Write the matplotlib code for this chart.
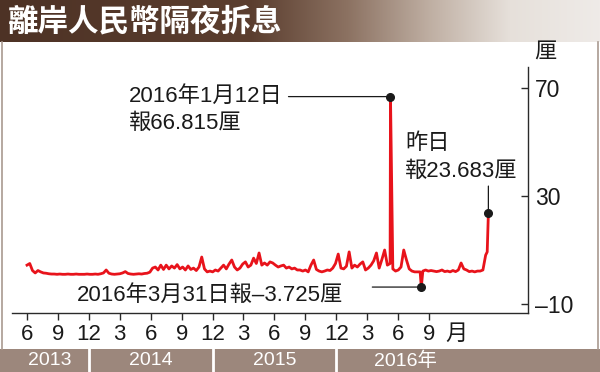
import matplotlib
matplotlib.use("Agg")
import matplotlib.pyplot as plt
import numpy as np
from matplotlib import transforms
from matplotlib.patches import Rectangle
from matplotlib.colors import to_rgb

FONT = ["Liberation Sans", "Noto Sans CJK TC", "DejaVu Sans"]
plt.rcParams["font.family"] = FONT

# CNH overnight HIBOR (%), one reading per week from 2013-06-24
start_date = np.datetime64("2013-06-24")
weekly_rate = [
    4.4, 5.0, 2.4, 1.5, 2.4, 1.9, 1.5, 1.4, 1.2, 1.1,
    1.1, 1.0, 1.1, 1.0, 1.0, 1.1, 1.0, 1.0, 1.1, 1.0,
    1.0, 1.0, 1.1, 1.0, 1.0, 1.1, 1.0, 1.2, 1.5, 2.6,
    1.4, 1.1, 1.0, 1.1, 1.2, 1.5, 2.0, 1.3, 1.1, 1.0,
    1.1, 1.2, 1.1, 1.3, 1.4, 1.8, 3.3, 3.7, 2.6, 4.4,
    2.8, 4.4, 3.0, 4.1, 3.3, 4.6, 3.0, 3.7, 2.6, 4.1,
    2.8, 3.3, 2.4, 3.7, 7.4, 3.0, 1.9, 2.2, 1.9, 2.6,
    2.2, 3.3, 4.4, 3.0, 4.8, 6.3, 3.7, 2.6, 3.3, 4.8,
    5.6, 3.7, 4.4, 7.0, 5.0, 8.9, 4.4, 5.2, 4.4, 5.6,
    5.2, 4.4, 3.7, 4.1, 4.4, 3.3, 3.7, 3.0, 3.3, 2.6,
    2.6, 2.2, 2.6, 1.9, 4.4, 6.3, 2.8, 2.2, 1.9, 2.2,
    2.6, 2.4, 3.3, 5.0, 8.5, 3.3, 3.0, 4.0, 9.3, 3.3,
    4.4, 3.7, 4.8, 5.6, 2.6, 3.3, 4.4, 6.0, 8.9, 3.3,
    6.5, 10.0, 4.4, 5.0, 3.0, 2.2, 2.6, 3.7, 10.0, 6.3,
    3.0, 2.2, 1.9, 1.9, 1.9, 2.2, 2.6, 2.2, 2.4, 2.2,
    2.0, 2.2, 2.6, 2.0, 2.2, 1.9, 2.4, 2.0, 2.6, 5.2,
    3.0, 2.6, 2.0, 2.2, 1.9, 2.2, 2.2, 2.6, 8.1,
]
# single days the weekly grid misses
event_dates = ["2016-01-12", "2016-03-31", "2016-09-16", "2016-09-19"]
event_rates = [66.815, -3.725, 9.3, 23.683]
marked = [0, 1, 3]  # events that get a black dot

month_labels = ["6", "9", "12", "3", "6", "9", "12", "3", "6", "9", "12", "3", "6", "9"]
year_labels = ["2013", "2014", "2015", "2016年"]
tick_step = 79.3  # the printed month ticks are not spaced to the data's calendar

days = np.arange(len(weekly_rate)) * 7
ev_days = np.array([(np.datetime64(d) - start_date).astype(int) for d in event_dates])
x = np.concatenate([days, ev_days])
y = np.concatenate([weekly_rate, event_rates])
order = np.argsort(x, kind="stable")
x, y = x[order], y[order]

fig = plt.figure(figsize=(6, 3.72), dpi=100)
W, H = 600, 372
INK = "#1a1a1a"

# title band with gradient
tax = fig.add_axes([0, 1 - 42 / H, 1, 42 / H])
stops = [0, 0.42, 0.58, 0.72, 0.85, 1.0]
cols = ["#4d3225", "#5b3e2f", "#8c7262", "#c0b0a4", "#e6e0da", "#efebe8"]
gx = np.linspace(0, 1, 600)
rgb = np.array([to_rgb(c) for c in cols])
grad = np.stack([np.interp(gx, stops, rgb[:, i]) for i in range(3)], axis=-1)
tax.imshow(grad[None, :, :], aspect="auto", extent=[0, 1, 0, 1])
tax.set_axis_off()
fig.text(8 / W, 1 - 21 / H, "離岸人民幣隔夜拆息", color="white", fontsize=22,
         fontweight="bold", va="center", ha="left", family=["Noto Sans CJK TC"])

# frame sides and bottom band (behind the axes so the year labels stay on top)
fig.add_artist(plt.Line2D([1.5 / W, 1.5 / W], [23 / H, 1 - 42 / H], color="#a99a90", lw=1.2))
fig.add_artist(plt.Line2D([597.5 / W, 597.5 / W], [23 / H, 1 - 42 / H], color="#a99a90", lw=1.2))
fig.add_artist(Rectangle((0, 0), 1, 23 / H, transform=fig.transFigure, color="#9c877c",
                         lw=0, zorder=-1))

ax = fig.add_axes([12 / W, 1 - 313 / H, 516 / W, 246 / H])
ax.patch.set_alpha(0)
ax.plot(x, y, color="#e8131b", lw=2.0, zorder=3)
ax.plot(ev_days[marked], np.array(event_rates)[marked], "o", color=INK, ms=5.5, zorder=5)
ax.set_xlim(-38.5, 1284.6)
ax.set_ylim(-13.33, 77.78)

for s in ["top", "left"]:
    ax.spines[s].set_visible(False)
for s in ["bottom", "right"]:
    ax.spines[s].set_color("#2a2a2a")
    ax.spines[s].set_linewidth(1)

tick_x = np.arange(len(month_labels)) * tick_step
ax.set_xticks(tick_x)
ax.set_xticklabels(month_labels)
ax.tick_params(axis="x", direction="out", length=5, width=1, pad=3, labelsize=16,
               color="#2a2a2a", labelcolor=INK)
ax.yaxis.tick_right()
ax.set_yticks([-10, 30, 70])
ax.set_yticklabels(["–10", "30", "70"])
ax.tick_params(axis="y", direction="in", length=5, width=1, pad=5, labelsize=16.5,
               color="#2a2a2a", labelcolor=INK)

ax.annotate("月", xy=(13.87 * tick_step, 0), xycoords=("data", "axes fraction"),
            xytext=(0, -8), textcoords="offset points", ha="center", va="top",
            fontsize=16, color=INK)
fig.text(534 / W, 1 - 53 / H, "厘", fontsize=16, va="center", ha="left", color=INK)

# year band labels and dividers
bt = transforms.blended_transform_factory(ax.transData, fig.transFigure)
bounds = [-0.5 * tick_step] + [tick_x[i] for i, m in enumerate(month_labels) if m == "12"] + [14.5 * tick_step]
for b in bounds[1:-1]:
    ax.add_artist(plt.Line2D([b, b], [0, 23 / H], transform=bt, color="white", lw=2, clip_on=False))
for i, lab in enumerate(year_labels):
    ax.text((bounds[i] + bounds[i + 1]) / 2, 11.5 / H, lab, transform=bt, ha="center",
            va="center", color="white", fontsize=14, clip_on=False)

# annotations (offsets in points, 1 px = 0.72 pt)
px = 0.72
line_kw = dict(arrowstyle="-", lw=0.9, color=INK, shrinkA=0, shrinkB=0)
d0, v0 = ev_days[0], event_rates[0]
ax.annotate("", xy=(d0, v0), xytext=(-102 * px, 0), textcoords="offset points", arrowprops=line_kw)
ax.annotate("2016年1月12日", xy=(d0, v0), xytext=(-262 * px, 0), textcoords="offset points",
            ha="left", va="center", fontsize=16, color=INK)
ax.annotate("報66.815厘", xy=(d0, v0), xytext=(-262 * px, -27 * px), textcoords="offset points",
            ha="left", va="center", fontsize=16, color=INK)

d1, v1 = ev_days[1], event_rates[1]
ax.annotate("", xy=(d1, v1), xytext=(-49 * px, 0), textcoords="offset points", arrowprops=line_kw)
ax.annotate("2016年3月31日報–3.725厘", xy=(d1, v1), xytext=(-78 * px, -8 * px),
            textcoords="offset points", ha="right", va="center", fontsize=16, color=INK)

d3, v3 = ev_days[3], event_rates[3]
ax.annotate("", xy=(d3, v3), xytext=(0, 27 * px), textcoords="offset points", arrowprops=line_kw)
ax.annotate("昨日", xy=(d3, v3), xytext=(-83 * px, 70 * px), textcoords="offset points",
            ha="left", va="center", fontsize=16, color=INK)
ax.annotate("報23.683厘", xy=(d3, v3), xytext=(-83 * px, 42 * px), textcoords="offset points",
            ha="left", va="center", fontsize=16, color=INK)

fig.savefig("out.png", dpi=100)
